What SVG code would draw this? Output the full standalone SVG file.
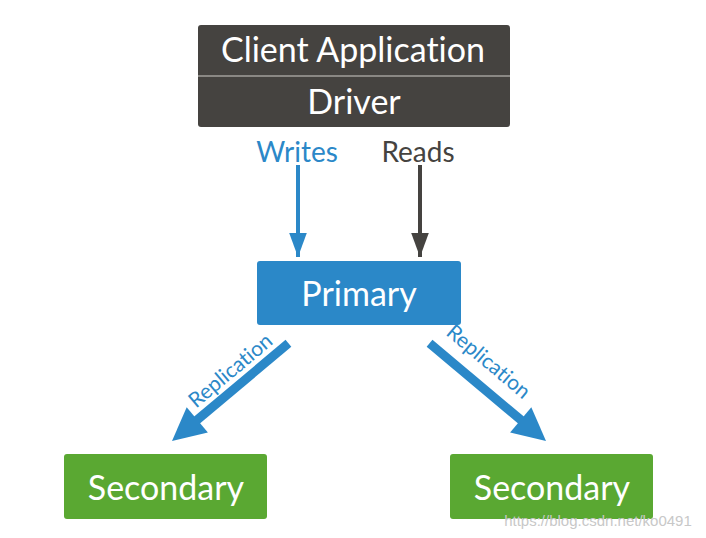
<svg xmlns="http://www.w3.org/2000/svg" width="706" height="538" viewBox="0 0 706 538">
<style>
text{font-family:Lato,"Open Sans","Liberation Sans",sans-serif;font-variant-ligatures:none;}
.w{fill:#ffffff;text-anchor:middle;}
.blue{fill:#2b88c8;}
.dark{fill:#454340;}
.green{fill:#5aa832;}
</style>
<defs>
<marker id="ah" viewBox="0 0 10 10" refX="10" refY="5" markerWidth="6" markerHeight="4.4" orient="auto" markerUnits="strokeWidth" preserveAspectRatio="none"><path d="M0,0 L10,5 L0,10 z" fill="context-stroke"/></marker>
</defs>
<rect width="706" height="538" fill="#ffffff"/>
<g id="client">
<rect class="dark" x="198" y="25" width="312" height="102" rx="3"/>
<line x1="198" y1="76" x2="510" y2="76" stroke="#8a8884" stroke-width="2"/>
<text class="w" x="353" y="62" font-size="34">Client Application</text>
<text class="w" x="354" y="114" font-size="34">Driver</text>
</g>
<g id="primary">
<rect class="blue" x="257" y="261" width="204" height="64" rx="3"/>
<text class="w" x="359" y="306" font-size="34">Primary</text>
</g>
<g id="secondary1">
<rect class="green" x="64" y="454" width="203" height="65" rx="3"/>
<text class="w" x="166" y="500" font-size="34">Secondary</text>
</g>
<g id="secondary2">
<rect class="green" x="450" y="454" width="203" height="65" rx="3"/>
<text class="w" x="552" y="500" font-size="34">Secondary</text>
</g>
<g id="connectors">
<text class="blue" x="297" y="162" font-size="28" text-anchor="middle">Writes</text>
<text class="dark" x="418" y="162" font-size="28" text-anchor="middle">Reads</text>
<line x1="298" y1="165" x2="298" y2="257" stroke="#2b88c8" stroke-width="4" marker-end="url(#ah)"/>
<line x1="420" y1="165" x2="420" y2="257" stroke="#454340" stroke-width="4" marker-end="url(#ah)"/>
<g transform="translate(172,441) rotate(140)">
<rect class="blue" x="-152" y="-4.5" width="124" height="9"/>
<polygon class="blue" points="0,0 -33,-16.5 -33,16.5"/>
</g>
<g transform="translate(546,441) rotate(40)">
<rect class="blue" x="-152" y="-4.5" width="124" height="9"/>
<polygon class="blue" points="0,0 -33,-16.5 -33,16.5"/>
</g>
<text class="blue" font-size="21" text-anchor="middle" transform="translate(235,376) rotate(-40)">Replication</text>
<text class="blue" font-size="21" text-anchor="middle" transform="translate(484,367) rotate(40)">Replication</text>
</g>
<text x="598" y="526" font-size="15" fill="#c8c8c8" text-anchor="middle" style="font-family:'Liberation Sans',sans-serif">https://blog.csdn.net/ko0491</text>
</svg>
